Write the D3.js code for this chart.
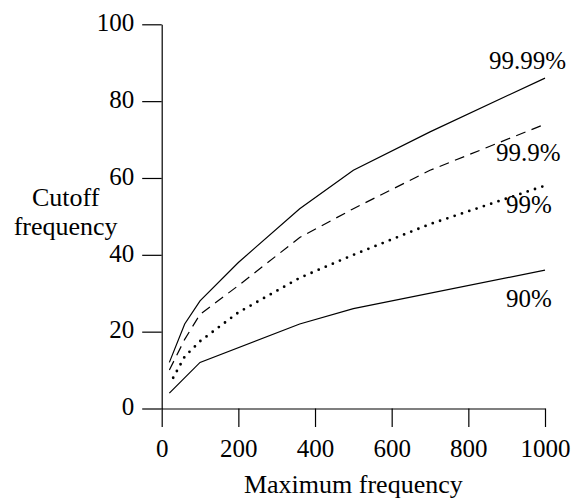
<!DOCTYPE html>
<html>
<head>
<meta charset="utf-8">
<script src="https://cdn.jsdelivr.net/npm/d3@7"></script>
</head>
<body style="margin:0">
<div id="chart"></div>
<script>
// chart values
const maxFreq = [20, 60, 100, 200, 360, 500, 700, 1000];
const cut9999 = [12, 22, 28, 38, 52, 62, 72, 86];
const cut999 = [10, 18, 24.5, 32, 44.5, 52, 62, 74];
const cut99x = [30, 60, 100, 200, 360, 500, 700, 1000];
const cut99 = [8, 13.5, 17.5, 25, 34, 40, 48, 58];
const cut90x = [20, 100, 360, 500, 1000];
const cut90 = [4, 12, 22, 26, 36];
const seriesNames = ['99.99%', '99.9%', '99%', '90%'];
const xTicks = [0, 200, 400, 600, 800, 1000];
const yTicks = [0, 20, 40, 60, 80, 100];

const width = 574;
const height = 499;
const serif = "'Liberation Serif', serif";

const svg = d3.select('#chart')
    .append('svg')
    .attr('width', width)
    .attr('height', height);

const x = d3.scaleLinear().domain([0, 1000]).range([161.7, 545]);
const y = d3.scaleLinear().domain([0, 100]).range([408.5, 24.3]);

// axes: long outward ticks, no outer ticks
const xAxis = svg.append('g')
    .attr('transform', `translate(0,${y(0)})`)
    .call(d3.axisBottom(x).tickValues(xTicks).tickFormat(d3.format('d'))
        .tickSize(18.5).tickSizeOuter(0).tickPadding(12));

const yAxis = svg.append('g')
    .attr('transform', `translate(${x(0)},0)`)
    .call(d3.axisLeft(y).tickValues(yTicks).tickFormat(d3.format('d'))
        .tickSize(19.5).tickSizeOuter(0).tickPadding(8));

[xAxis, yAxis].forEach(g => {
    g.attr('font-family', serif).attr('font-size', 25);
    g.selectAll('path, line').attr('stroke', '#000').attr('stroke-width', 1.2);
    g.selectAll('text')
        .style('font-family', serif)
        .style('font-size', '25px');
});
yAxis.selectAll('text').attr('dy', '0.25em');

// axis titles
svg.append('text')
    .attr('x', x(500))
    .attr('y', 493)
    .attr('text-anchor', 'middle')
    .style('font-family', serif)
    .style('font-size', '26px')
    .text('Maximum frequency');

const yTitle = svg.append('text')
    .attr('text-anchor', 'middle')
    .style('font-family', serif)
    .style('font-size', '26px');
yTitle.append('tspan').attr('x', 65.6).attr('y', 205.5).text('Cutoff');
yTitle.append('tspan').attr('x', 65.6).attr('y', 235).text('frequency');

// series
const series = [
    { name: seriesNames[0], xs: maxFreq, ys: cut9999, dash: null, width: 1.2, cap: 'butt' },
    { name: seriesNames[1], xs: maxFreq, ys: cut999, dash: '10,6.5', width: 1.2, cap: 'butt' },
    { name: seriesNames[2], xs: cut99x, ys: cut99, dash: '0,7.7', width: 2.8, cap: 'round' },
    { name: seriesNames[3], xs: cut90x, ys: cut90, dash: null, width: 1.2, cap: 'butt' }
];

// where each label sits relative to the end of its line (px)
const labelOffsets = [[-56, -9], [-49, 37], [-39, 27.5], [-39, 36.5]];

const line = d3.line()
    .x(d => x(d[0]))
    .y(d => y(d[1]));

series.forEach((s, i) => {
    const pts = s.xs.map((v, j) => [v, s.ys[j]]);
    svg.append('path')
        .datum(pts)
        .attr('d', line)
        .attr('fill', 'none')
        .attr('stroke', '#000')
        .attr('stroke-width', s.width)
        .attr('stroke-linecap', s.cap)
        .attr('stroke-dasharray', s.dash);

    const last = pts[pts.length - 1];
    svg.append('text')
        .attr('x', x(last[0]) + labelOffsets[i][0])
        .attr('y', y(last[1]) + labelOffsets[i][1])
        .style('font-family', serif)
        .style('font-size', '25px')
        .text(s.name);
});
</script>
</body>
</html>
